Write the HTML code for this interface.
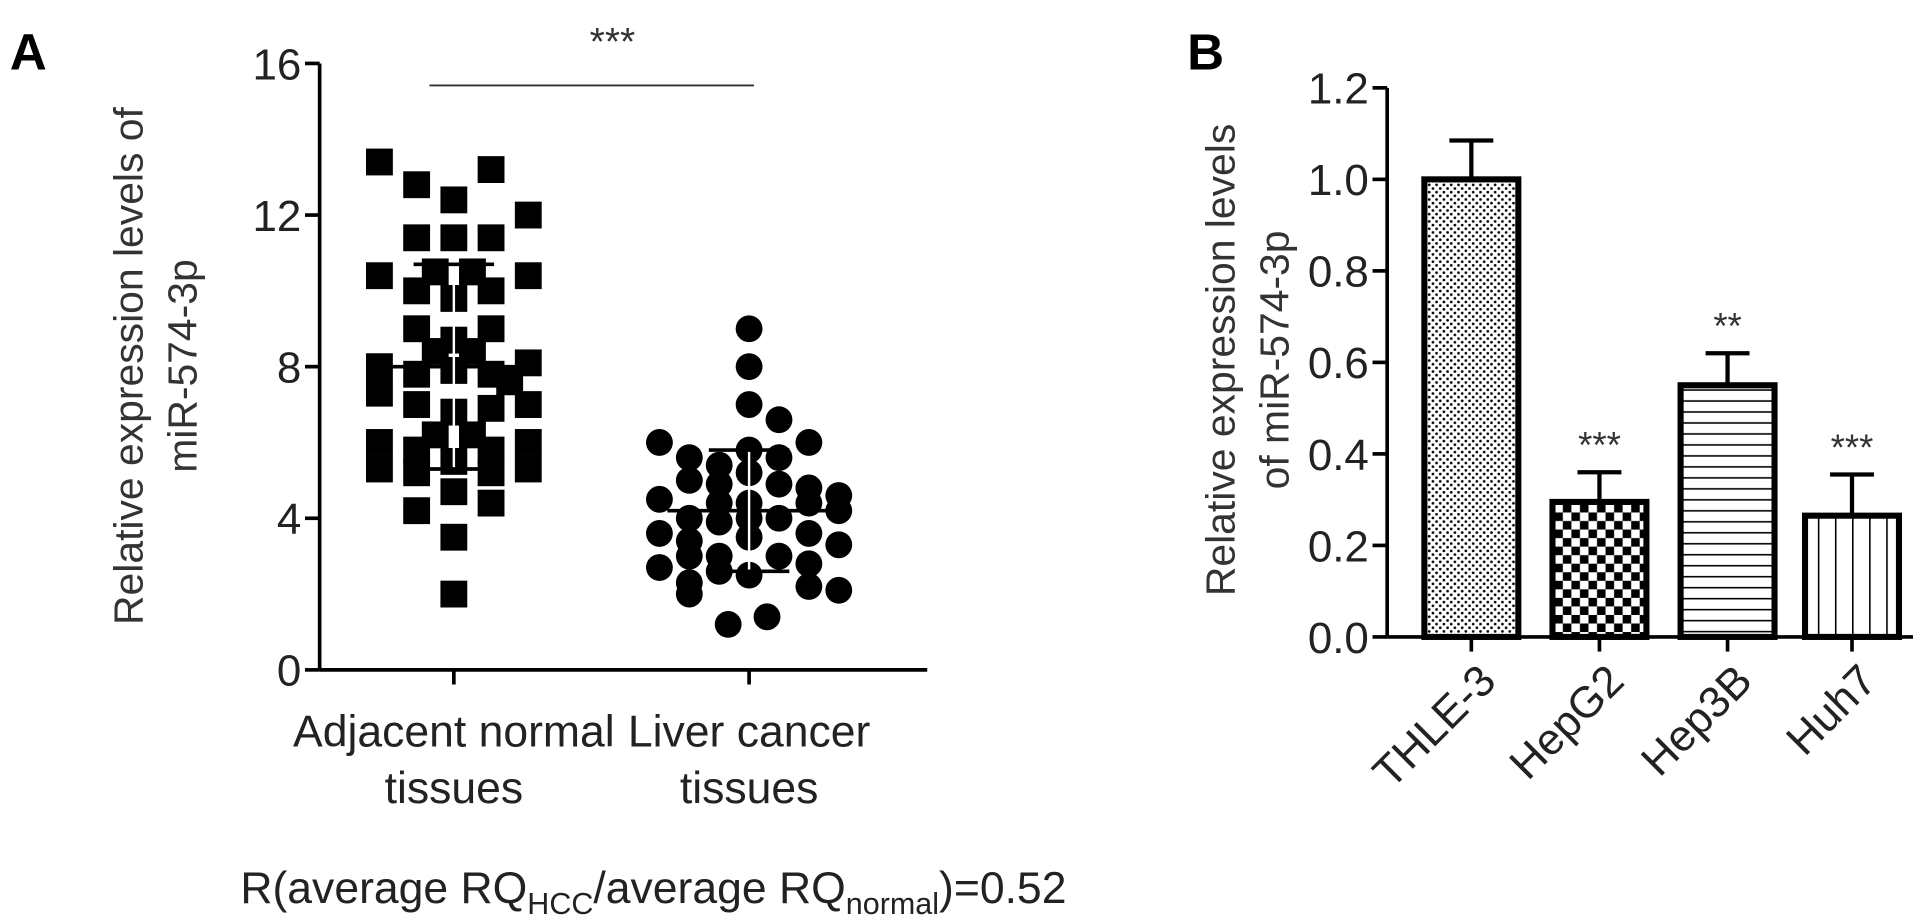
<!DOCTYPE html>
<html><head><meta charset="utf-8"><style>
html,body{margin:0;padding:0;background:#fff;}
svg{display:block;font-family:"Liberation Sans",sans-serif;}
</style></head><body>
<svg id="s" width="1913" height="920" viewBox="0 0 1568 754" preserveAspectRatio="none">
<defs>
<pattern id="pDots" width="6" height="6" patternUnits="userSpaceOnUse"><rect width="6" height="6" fill="#fff"/><circle cx="1.5" cy="1.5" r="1.1" fill="#000"/><circle cx="4.5" cy="4.5" r="1.1" fill="#000"/></pattern>
<pattern id="pCheck" width="14" height="14" patternUnits="userSpaceOnUse"><rect width="14" height="14" fill="#fff"/><rect width="7" height="7" fill="#000"/><rect x="7" y="7" width="7" height="7" fill="#000"/></pattern>
<pattern id="pH" width="8" height="9" patternUnits="userSpaceOnUse"><rect width="8" height="9" fill="#fff"/><rect y="4" width="8" height="1.3" fill="#000"/></pattern>
<pattern id="pV" width="14" height="8" patternUnits="userSpaceOnUse"><rect width="14" height="8" fill="#fff"/><rect x="6" width="1.3" height="8" fill="#000"/></pattern>
</defs>
<text x="8" y="57" font-size="42" font-weight="bold">A</text>
<text x="973" y="57" font-size="42" font-weight="bold">B</text>
<g id="A"></g><g id="B"></g>
<text x="197" y="740" font-size="36.5" fill="#222">R(average RQ<tspan font-size="25" dy="9">HCC</tspan><tspan dy="-9">/average RQ</tspan><tspan font-size="25" dy="9">normal</tspan><tspan dy="-9">)=0.52</tspan></text>
</svg>
<script>
// Panel A data
const aTicks=[0,4,8,12,16];
const adjOff=[-2,-1,0,1,2,-1,0,1,-2,2,-0.5,0.5,-1,0,1,-1,0,1,-0.5,0.5,-2,2,-1,0,1,1.5,-2,-1,2,0,1,-0.5,0.5,-2,-1,1,2,-2,-1,0,1,2,0,-1,1,0,0];
const adjVal=[13.4,12.8,12.4,13.2,12.0,11.4,11.4,11.4,10.4,10.4,10.5,10.5,10.0,9.8,10.0,9.0,8.7,9.0,8.4,8.4,8.0,8.1,7.8,7.9,7.8,7.6,7.3,7.0,7.0,6.8,6.9,6.2,6.2,6.0,5.8,5.8,6.0,5.3,5.2,5.5,5.2,5.3,4.7,4.2,4.4,3.5,2.0];
const livOff=[0,0,0,1,-3,2,-2,-1,0,1,-2,-1,0,1,2,-3,-1,0,2,3,-2,-1,0,1,3,-3,-2,0,2,3,-2,-1,1,2,-3,-2,0,3,-2,-1,2,-0.7,0.6];
const livVal=[9.0,8.0,7.0,6.6,6.0,6.0,5.6,5.4,5.8,5.6,5.0,4.9,5.2,4.9,4.8,4.5,4.4,4.4,4.4,4.6,4.0,3.9,4.0,4.0,4.2,3.6,3.4,3.5,3.6,3.3,3.0,3.0,3.0,2.8,2.7,2.3,2.5,2.1,2.0,2.6,2.2,1.2,1.4];
const aMeans=[8.0,4.2], aSDhi=[10.7,5.8], aSDlo=[5.3,2.6];
const aCats=[["Adjacent normal","tissues"],["Liver cancer","tissues"]];
// Panel B data
const bCats=["THLE-3","HepG2","Hep3B","Huh7"];
const bVals=[1.0,0.295,0.55,0.265];
const bErr=[0.085,0.065,0.07,0.09];
const bSig=["","***","**","***"];
const bTicks=["0.0","0.2","0.4","0.6","0.8","1.0","1.2"];

const NS="http://www.w3.org/2000/svg";
function mk(p,t,at,txt){const e=document.createElementNS(NS,t);for(const k in at)e.setAttribute(k,at[k]);if(txt!==undefined)e.textContent=txt;p.appendChild(e);return e;}
// Panel A
const A=document.getElementById('A');
const ay=v=>549-v*(549-52)/16;
const cx=[372,614], jit=[30.5,24.5];
mk(A,'line',{x1:262,y1:52,x2:262,y2:549,stroke:'#000','stroke-width':3});

mk(A,'line',{x1:262,y1:549,x2:760,y2:549,stroke:'#000','stroke-width':3});

aTicks.forEach(t=>{
 const l=mk(A,'line',{x1:250,y1:ay(t),x2:262,y2:ay(t),stroke:'#000','stroke-width':3});
 
 
 const tx=mk(A,'text',{x:247,y:ay(t)+13,'font-size':36,'text-anchor':'end',fill:'#222'},String(t));
 
 
});
cx.forEach((c,i)=>{
 const l=mk(A,'line',{x1:c,y1:549,x2:c,y2:561,stroke:'#000','stroke-width':3});
 
 
 aCats[i].forEach((s,j)=>{const tx=mk(A,'text',{x:c,y:612+j*46,'font-size':36.5,'text-anchor':'middle',fill:'#222'},s);
 
 });
});
adjVal.forEach((v,i)=>{const r=mk(A,'rect',{x:cx[0]+adjOff[i]*jit[0]-11,y:ay(v)-11,width:22,height:22,fill:'#000'});
 
 });
livVal.forEach((v,i)=>{const r=mk(A,'circle',{cx:cx[1]+livOff[i]*jit[1],cy:ay(v),r:11,fill:'#000'});
 
 });
aMeans.forEach((m,i)=>{
 const g=mk(A,'g',{stroke:'#000','stroke-width':3});
 
 
 mk(g,'line',{x1:cx[i]-67,y1:ay(m),x2:cx[i]+67,y2:ay(m)});
 mk(g,'line',{x1:cx[i],y1:ay(aSDhi[i]),x2:cx[i],y2:ay(aSDlo[i]),stroke:'#fff','stroke-width':2});
 mk(g,'line',{x1:cx[i]-33,y1:ay(aSDhi[i]),x2:cx[i]+33,y2:ay(aSDhi[i])});
 mk(g,'line',{x1:cx[i]-33,y1:ay(aSDlo[i]),x2:cx[i]+33,y2:ay(aSDlo[i])});
});
const sl=mk(A,'line',{x1:352,y1:70,x2:618,y2:70,stroke:'#333','stroke-width':1.5});


const st=mk(A,'text',{x:502,y:45,'font-size':32,'text-anchor':'middle',fill:'#333'},'***');


const at=mk(A,'text',{transform:'translate(117,300) rotate(-90)','font-size':33.5,'text-anchor':'middle',fill:'#333'});


mk(at,'tspan',{x:0,y:0},'Relative expression levels of');
mk(at,'tspan',{x:0,y:44},'miR-574-3p');
// Panel B
const B=document.getElementById('B');
const by=v=>522-v*(522-72)/1.2;
const bx=[1206,1311,1416,1518], bw=77;
const pats=['pDots','pCheck','pH','pV'];
bVals.forEach((v,i)=>{
 const r=mk(B,'rect',{x:bx[i]-bw/2,y:by(v),width:bw,height:by(0)-by(v),fill:'url(#'+pats[i]+')',stroke:'#000','stroke-width':5});
 
 
 const e=mk(B,'g',{stroke:'#000','stroke-width':3.5});
 
 
 mk(e,'line',{x1:bx[i],y1:by(v),x2:bx[i],y2:by(v+bErr[i])});
 mk(e,'line',{x1:bx[i]-18,y1:by(v+bErr[i]),x2:bx[i]+18,y2:by(v+bErr[i])});
 if(bSig[i]){const t=mk(B,'text',{x:bx[i],y:by(v+bErr[i])-12,'font-size':30,'text-anchor':'middle',fill:'#333'},bSig[i]);
 
 }
 const tk=mk(B,'line',{x1:bx[i],y1:522,x2:bx[i],y2:534,stroke:'#000','stroke-width':3});
 
 
 const lb=mk(B,'text',{transform:'translate('+(bx[i]+22)+',560) rotate(-45)','font-size':36,'text-anchor':'end',fill:'#222'},bCats[i]);
 
 
});
const bya=mk(B,'line',{x1:1137,y1:72,x2:1137,y2:522,stroke:'#000','stroke-width':3});


const bxa=mk(B,'line',{x1:1137,y1:522,x2:1568,y2:522,stroke:'#000','stroke-width':3});


bTicks.forEach(t=>{
 const v=parseFloat(t);
 const l=mk(B,'line',{x1:1125,y1:by(v),x2:1137,y2:by(v),stroke:'#000','stroke-width':3});
 
 
 const tx=mk(B,'text',{x:1122,y:by(v)+13,'font-size':36,'text-anchor':'end',fill:'#222'},t);
 
 
});
const bt=mk(B,'text',{transform:'translate(1012,295) rotate(-90)','font-size':33.5,'text-anchor':'middle',fill:'#333'});


mk(bt,'tspan',{x:0,y:0},'Relative expression levels');
mk(bt,'tspan',{x:0,y:44},'of miR-574-3p');
</script>
</body></html>
